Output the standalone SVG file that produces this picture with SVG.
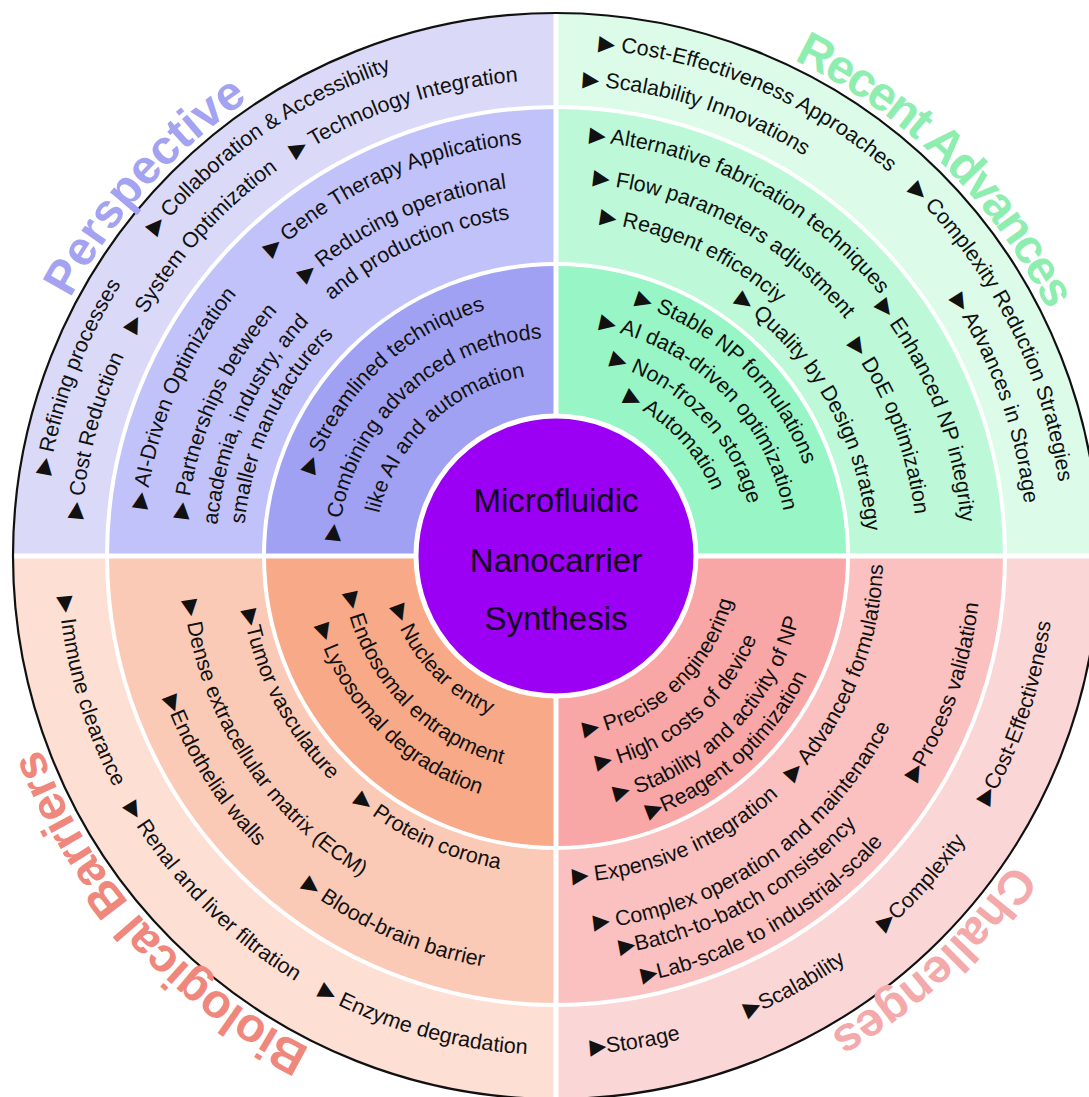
<svg xmlns="http://www.w3.org/2000/svg" width="1089" height="1097" viewBox="0 0 1089 1097">
<style>
.it{font-family:"Liberation Sans","DejaVu Sans",Arial,sans-serif;font-size:21.5px;fill:#111}
.tr{font-family:"DejaVu Sans",sans-serif}
.tt{font-family:"Liberation Sans",Arial,sans-serif;font-size:48px;font-weight:bold;text-anchor:middle}
.ct{font-family:"Liberation Sans",Arial,sans-serif;font-size:33px;fill:#14001c;text-anchor:middle}
.sep{fill:none;stroke:#fff;stroke-width:4}
</style>
<defs>
<path id="cw550" d="M6 556A550 550 0 0 1 1106 556A550 550 0 0 1 6 556"/>
<path id="cw513" d="M43 556A513 513 0 0 1 1069 556A513 513 0 0 1 43 556"/>
<path id="cw476" d="M80 556A476 476 0 0 1 1032 556A476 476 0 0 1 80 556"/>
<path id="cw413" d="M143 556A413 413 0 0 1 969 556A413 413 0 0 1 143 556"/>
<path id="cw371" d="M185 556A371 371 0 0 1 927 556A371 371 0 0 1 185 556"/>
<path id="cw340" d="M216 556A340 340 0 0 1 896 556A340 340 0 0 1 216 556"/>
<path id="cw313" d="M243 556A313 313 0 0 1 869 556A313 313 0 0 1 243 556"/>
<path id="cw256" d="M300 556A256 256 0 0 1 812 556A256 256 0 0 1 300 556"/>
<path id="cw218" d="M338 556A218 218 0 0 1 774 556A218 218 0 0 1 338 556"/>
<path id="cw182" d="M374 556A182 182 0 0 1 738 556A182 182 0 0 1 374 556"/>
<path id="cw508" d="M48 556A508 508 0 0 1 1064 556A508 508 0 0 1 48 556"/>
<path id="cw471" d="M85 556A471 471 0 0 1 1027 556A471 471 0 0 1 85 556"/>
<path id="cw416" d="M140 556A416 416 0 0 1 972 556A416 416 0 0 1 140 556"/>
<path id="cw406" d="M150 556A406 406 0 0 1 962 556A406 406 0 0 1 150 556"/>
<path id="cw374" d="M182 556A374 374 0 0 1 930 556A374 374 0 0 1 182 556"/>
<path id="cw361" d="M195 556A361 361 0 0 1 917 556A361 361 0 0 1 195 556"/>
<path id="cw336" d="M220 556A336 336 0 0 1 892 556A336 336 0 0 1 220 556"/>
<path id="cw311" d="M245 556A311 311 0 0 1 867 556A311 311 0 0 1 245 556"/>
<path id="cw264" d="M292 556A264 264 0 0 1 820 556A264 264 0 0 1 292 556"/>
<path id="cw232" d="M324 556A232 232 0 0 1 788 556A232 232 0 0 1 324 556"/>
<path id="cw199" d="M357 556A199 199 0 0 1 755 556A199 199 0 0 1 357 556"/>
<path id="cw169" d="M387 556A169 169 0 0 1 725 556A169 169 0 0 1 387 556"/>
<path id="ccw499" d="M57 556A499 499 0 0 0 1055 556A499 499 0 0 0 57 556"/>
<path id="ccw417" d="M139 556A417 417 0 0 0 973 556A417 417 0 0 0 139 556"/>
<path id="ccw375" d="M181 556A375 375 0 0 0 931 556A375 375 0 0 0 181 556"/>
<path id="ccw318" d="M238 556A318 318 0 0 0 874 556A318 318 0 0 0 238 556"/>
<path id="ccw250" d="M306 556A250 250 0 0 0 806 556A250 250 0 0 0 306 556"/>
<path id="ccw215" d="M341 556A215 215 0 0 0 771 556A215 215 0 0 0 341 556"/>
<path id="ccw172" d="M384 556A172 172 0 0 0 728 556A172 172 0 0 0 384 556"/>
<path id="ccw435" d="M121 556A435 435 0 0 0 991 556A435 435 0 0 0 121 556"/>
<path id="ccw425" d="M131 556A425 425 0 0 0 981 556A425 425 0 0 0 131 556"/>
<path id="ccw403" d="M153 556A403 403 0 0 0 959 556A403 403 0 0 0 153 556"/>
<path id="ccw327" d="M229 556A327 327 0 0 0 883 556A327 327 0 0 0 229 556"/>
<path id="ccw278" d="M278 556A278 278 0 0 0 834 556A278 278 0 0 0 278 556"/>
<path id="ccw251" d="M305 556A251 251 0 0 0 807 556A251 251 0 0 0 305 556"/>
<path id="ccw217" d="M339 556A217 217 0 0 0 773 556A217 217 0 0 0 339 556"/>
<path id="ccw182" d="M374 556A182 182 0 0 0 738 556A182 182 0 0 0 374 556"/>
</defs>
<rect width="1089" height="1097" fill="#fff"/>

<g id="perspective">
<path d="M556 556L13 556A543 543 0 0 1 556 13Z" fill="#dadaf8"/>
<path d="M556 556L107 556A449 449 0 0 1 556 107Z" fill="#c2c2fa"/>
<path d="M556 556L264 556A292 292 0 0 1 556 264Z" fill="#a1a1f4"/>
</g>
<g id="recent-advances">
<path d="M556 556L556 13A543 543 0 0 1 1099 556Z" fill="#dcfbe9"/>
<path d="M556 556L556 107A449 449 0 0 1 1005 556Z" fill="#bdf8d8"/>
<path d="M556 556L556 264A292 292 0 0 1 848 556Z" fill="#98f5c5"/>
</g>
<g id="challenges">
<path d="M556 556L1099 556A543 543 0 0 1 556 1099Z" fill="#fbd6d6"/>
<path d="M556 556L1005 556A449 449 0 0 1 556 1005Z" fill="#fbc0c0"/>
<path d="M556 556L848 556A292 292 0 0 1 556 848Z" fill="#f8a6a6"/>
</g>
<g id="biological-barriers">
<path d="M556 556L556 1099A543 543 0 0 1 13 556Z" fill="#fddfd4"/>
<path d="M556 556L556 1005A449 449 0 0 1 107 556Z" fill="#fbcab6"/>
<path d="M556 556L556 848A292 292 0 0 1 264 556Z" fill="#f8a987"/>
</g>

<g id="dividers">
<circle class="sep" cx="556" cy="556" r="449"/>
<circle class="sep" cx="556" cy="556" r="292"/>
<line x1="556" y1="13" x2="556" y2="1099" stroke="#fff" stroke-width="5"/>
<line x1="13" y1="556" x2="1099" y2="556" stroke="#fff" stroke-width="5"/>
<circle cx="556" cy="556" r="543" fill="none" stroke="#111" stroke-width="2.2"/>
</g>

<g id="connectors"/>

<g id="center">
<circle cx="556" cy="556" r="140" fill="#9b00f5" stroke="#fff" stroke-width="5"/>
<text class="ct" x="556" y="512">Microfluidic</text>
<text class="ct" x="556" y="572">Nanocarrier</text>
<text class="ct" x="556" y="630">Synthesis</text>
</g>

<g id="titles" class="tt">
<text fill="#a3a3f2"><textPath href="#cw550" startOffset="403">Perspective</textPath></text>
<text fill="#8eeeb0" letter-spacing="-2.5"><textPath href="#cw550" startOffset="1290">Recent Advances</textPath></text>
<text fill="#f4a9ab" letter-spacing="-0.5"><textPath href="#cw550" startOffset="2179">Challenges</textPath></text>
<text fill="#f0877c" letter-spacing="-0.8"><textPath href="#cw550" startOffset="3052">Biological Barriers</textPath></text>
</g>

<g id="perspective-items" class="it">
<text><textPath href="#cw513" startOffset="81"><tspan class="tr">▶</tspan> Refining processes</textPath></text>
<text><textPath href="#cw513" startOffset="346"><tspan class="tr">▶</tspan> Collaboration &amp; Accessibility</textPath></text>
<text><textPath href="#cw476" startOffset="37"><tspan class="tr">▶</tspan> Cost Reduction</textPath></text>
<text><textPath href="#cw476" startOffset="231"><tspan class="tr">▶</tspan> System Optimization</textPath></text>
<text><textPath href="#cw476" startOffset="471"><tspan class="tr">▶</tspan> Technology Integration</textPath></text>
<text><textPath href="#cw413" startOffset="47"><tspan class="tr">▶</tspan> AI-Driven Optimization</textPath></text>
<text><textPath href="#cw413" startOffset="334"><tspan class="tr">▶</tspan> Gene Therapy Applications</textPath></text>
<text><textPath href="#cw371" startOffset="37"><tspan class="tr">▶</tspan> Partnerships between</textPath></text>
<text><textPath href="#cw371" startOffset="307"><tspan class="tr">▶</tspan> Reducing operational</textPath></text>
<text><textPath href="#cw340" startOffset="31">academia, industry, and</textPath></text>
<text><textPath href="#cw340" startOffset="289">and production costs</textPath></text>
<text><textPath href="#cw313" startOffset="32">smaller manufacturers</textPath></text>
<text><textPath href="#cw256" startOffset="83"><tspan class="tr">▶</tspan> Streamlined techniques</textPath></text>
<text><textPath href="#cw218" startOffset="15"><tspan class="tr">▶</tspan> Combining advanced methods</textPath></text>
<text><textPath href="#cw182" startOffset="43">like AI and automation</textPath></text>
</g>

<g id="recent-advances-items" class="it">
<text><textPath href="#cw508" startOffset="840"><tspan class="tr">▶</tspan> Cost-Effectiveness Approaches</textPath></text>
<text><textPath href="#cw508" startOffset="1187"><tspan class="tr">▶</tspan> Complexity Reduction Strategies</textPath></text>
<text><textPath href="#cw471" startOffset="766"><tspan class="tr">▶</tspan> Scalability Innovations</textPath></text>
<text><textPath href="#cw471" startOffset="1207"><tspan class="tr">▶</tspan> Advances in Storage</textPath></text>
<text><textPath href="#cw416" startOffset="686"><tspan class="tr">▶</tspan> Alternative fabrication techniques</textPath></text>
<text><textPath href="#cw406" startOffset="1005"><tspan class="tr">▶</tspan> Enhanced NP integrity</textPath></text>
<text><textPath href="#cw374" startOffset="624"><tspan class="tr">▶</tspan> Flow parameters adjustment</textPath></text>
<text><textPath href="#cw361" startOffset="907"><tspan class="tr">▶</tspan> DoE optimization</textPath></text>
<text><textPath href="#cw336" startOffset="571"><tspan class="tr">▶</tspan> Reagent efficenciy</textPath></text>
<text><textPath href="#cw311" startOffset="678"><tspan class="tr">▶</tspan> Quality by Design strategy</textPath></text>
<text><textPath href="#cw264" startOffset="494"><tspan class="tr">▶</tspan> Stable NP formulations</textPath></text>
<text><textPath href="#cw232" startOffset="407"><tspan class="tr">▶</tspan> AI data-driven optimization</textPath></text>
<text><textPath href="#cw199" startOffset="366"><tspan class="tr">▶</tspan> Non-frozen storage</textPath></text>
<text><textPath href="#cw169" startOffset="334"><tspan class="tr">▶</tspan> Automation</textPath></text>
</g>

<g id="biological-barriers-items" class="it">
<text><textPath href="#ccw499" startOffset="41"><tspan class="tr">▶</tspan> Immune clearance</textPath></text>
<text><textPath href="#ccw499" startOffset="262"><tspan class="tr">▶</tspan> Renal and liver filtration</textPath></text>
<text><textPath href="#ccw499" startOffset="535"><tspan class="tr">▶</tspan> Enzyme degradation</textPath></text>
<text><textPath href="#ccw417" startOffset="145"><tspan class="tr">▶</tspan>Endothelial walls</textPath></text>
<text><textPath href="#ccw417" startOffset="381"><tspan class="tr">▶</tspan> Blood-brain barrier</textPath></text>
<text><textPath href="#ccw375" startOffset="45"><tspan class="tr">▶</tspan> Dense extracellular matrix (ECM)</textPath></text>
<text><textPath href="#ccw318" startOffset="55"><tspan class="tr">▶</tspan>Tumor vasculature</textPath></text>
<text><textPath href="#ccw318" startOffset="280"><tspan class="tr">▶</tspan> Protein corona</textPath></text>
<text><textPath href="#ccw250" startOffset="71"><tspan class="tr">▶</tspan> Lysosomal degradation</textPath></text>
<text><textPath href="#ccw215" startOffset="38"><tspan class="tr">▶</tspan> Endosomal entrapment</textPath></text>
<text><textPath href="#ccw172" startOffset="52"><tspan class="tr">▶</tspan> Nuclear entry</textPath></text>
</g>

<g id="challenges-items" class="it">
<text><textPath href="#ccw182" startOffset="314"><tspan class="tr">▶</tspan> Precise engineering</textPath></text>
<text><textPath href="#ccw217" startOffset="382"><tspan class="tr">▶</tspan> High costs of device</textPath></text>
<text><textPath href="#ccw251" startOffset="454"><tspan class="tr">▶</tspan> Stability and activity of NP</textPath></text>
<text><textPath href="#ccw278" startOffset="531"><tspan class="tr">▶</tspan>Reagent optimization</textPath></text>
<text><textPath href="#ccw327" startOffset="530"><tspan class="tr">▶</tspan> Expensive integration</textPath></text>
<text><textPath href="#ccw327" startOffset="778"><tspan class="tr">▶</tspan> Advanced formulations</textPath></text>
<text><textPath href="#ccw375" startOffset="627"><tspan class="tr">▶</tspan> Complex operation and maintenance</textPath></text>
<text><textPath href="#ccw403" startOffset="697"><tspan class="tr">▶</tspan>Batch-to-batch consistency</textPath></text>
<text><textPath href="#ccw435" startOffset="770"><tspan class="tr">▶</tspan>Lab-scale to industrial-scale</textPath></text>
<text><textPath href="#ccw425" startOffset="1096"><tspan class="tr">▶</tspan>Process validation</textPath></text>
<text><textPath href="#ccw499" startOffset="818"><tspan class="tr">▶</tspan>Storage</textPath></text>
<text><textPath href="#ccw499" startOffset="980"><tspan class="tr">▶</tspan>Scalability</textPath></text>
<text><textPath href="#ccw499" startOffset="1142"><tspan class="tr">▶</tspan>Complexity</textPath></text>
<text><textPath href="#ccw499" startOffset="1306"><tspan class="tr">▶</tspan>Cost-Effectiveness</textPath></text>
</g>
</svg>
